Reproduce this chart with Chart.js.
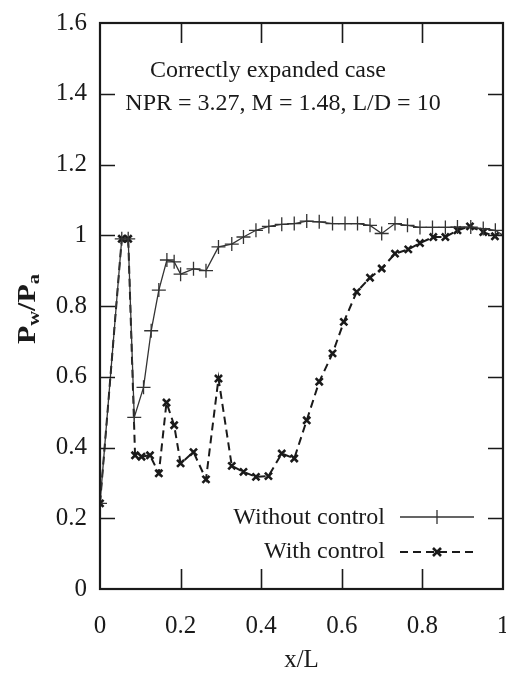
<!DOCTYPE html>
<html>
<head>
<meta charset="utf-8">
<script src="https://cdn.jsdelivr.net/npm/chart.js@4"></script>
<style>
  html, body { margin: 0; padding: 0; background: #fff; }
  #wrap { width: 506px; height: 673px; overflow: hidden; }
</style>
</head>
<body>
<div id="wrap"><canvas id="chart" width="506" height="673"></canvas></div>
<script>
// wall pressure along the nozzle
const xNoControl = [0, 0.054, 0.070, 0.085, 0.108, 0.127, 0.146, 0.166, 0.184, 0.200, 0.232, 0.263,
    0.294, 0.327, 0.356, 0.387, 0.419, 0.451, 0.482, 0.513, 0.544, 0.577, 0.608, 0.639,
    0.670, 0.699, 0.732, 0.763, 0.794, 0.825, 0.857, 0.887, 0.920, 0.951, 0.981, 1.0];
const pNoControl = [0.242, 0.99, 0.99, 0.485, 0.57, 0.73, 0.845, 0.93, 0.925, 0.89, 0.905, 0.90,
    0.967, 0.975, 0.995, 1.014, 1.025, 1.031, 1.033, 1.040, 1.038, 1.033, 1.033, 1.033,
    1.028, 1.005, 1.033, 1.028, 1.022, 1.022, 1.022, 1.023, 1.023, 1.019, 1.014, 1.0];

const xControl = [0, 0.054, 0.070, 0.087, 0.103, 0.124, 0.146, 0.165, 0.184, 0.200, 0.232, 0.263,
    0.294, 0.327, 0.356, 0.387, 0.418, 0.451, 0.482, 0.513, 0.544, 0.577, 0.605, 0.637,
    0.670, 0.699, 0.732, 0.765, 0.794, 0.827, 0.857, 0.887, 0.918, 0.951, 0.980];
const pControl = [0.242, 0.99, 0.99, 0.378, 0.374, 0.378, 0.327, 0.527, 0.463, 0.355, 0.387, 0.31,
    0.595, 0.348, 0.331, 0.317, 0.319, 0.383, 0.369, 0.477, 0.586, 0.666, 0.755, 0.840,
    0.880, 0.906, 0.948, 0.960, 0.978, 0.995, 0.995, 1.014, 1.025, 1.009, 0.997];

const xTickLabels = ['0', '0.2', '0.4', '0.6', '0.8', '1'];
const yTickLabels = ['0', '0.2', '0.4', '0.6', '0.8', '1', '1.2', '1.4', '1.6'];
const seriesNames = ['Without control', 'With control'];
const noteLines = ['Correctly expanded case', 'NPR = 3.27, M = 1.48, L/D = 10'];

const FONT = "'Liberation Serif', 'Times New Roman', serif";
const INK = '#1a1a1a';

function toPoints(xs, ys) {
    return xs.map((x, i) => ({ x: x, y: ys[i] }));
}

// box round the plot with inward ticks on all four sides
const framePlugin = {
    id: 'frame',
    afterDatasetsDraw(chart) {
        const { ctx, chartArea: a, scales: { x, y } } = chart;
        ctx.save();
        ctx.strokeStyle = INK;
        ctx.lineWidth = 1.6;
        ctx.beginPath();
        x.ticks.forEach(t => {
            if (t.value <= x.min || t.value >= x.max) return;
            const px = Math.round(x.getPixelForValue(t.value)) + 0.5;
            ctx.moveTo(px, a.bottom); ctx.lineTo(px, a.bottom - 20);
            ctx.moveTo(px, a.top); ctx.lineTo(px, a.top + 20);
        });
        y.ticks.forEach(t => {
            if (t.value <= y.min || t.value >= y.max) return;
            const py = Math.round(y.getPixelForValue(t.value)) + 0.5;
            ctx.moveTo(a.left, py); ctx.lineTo(a.left + 15, py);
            ctx.moveTo(a.right, py); ctx.lineTo(a.right - 15, py);
        });
        ctx.stroke();
        ctx.lineWidth = 2.2;
        ctx.strokeRect(a.left, a.top, a.right - a.left, a.bottom - a.top);

        // x tick labels drawn here so the "1" can run off the edge as in the original
        ctx.fillStyle = INK;
        ctx.font = '25px ' + FONT;
        ctx.textAlign = 'center';
        ctx.textBaseline = 'middle';
        x.ticks.forEach((t, i) => {
            ctx.fillText(xTickLabels[i], x.getPixelForValue(t.value), 626);
        });
        ctx.restore();
    }
};

// note, legend and the y title with subscripts
const textPlugin = {
    id: 'texts',
    afterDraw(chart) {
        const { ctx } = chart;
        ctx.save();
        ctx.fillStyle = INK;
        ctx.textBaseline = 'middle';

        ctx.font = '24px ' + FONT;
        ctx.textAlign = 'center';
        ctx.fillText(noteLines[0], 268, 71);
        ctx.fillText(noteLines[1], 283, 104);

        // legend
        ctx.textAlign = 'right';
        ctx.fillText(seriesNames[0], 385, 518);
        ctx.fillText(seriesNames[1], 385, 552);

        ctx.strokeStyle = '#333';
        ctx.lineWidth = 1.3;
        ctx.beginPath();
        ctx.moveTo(400, 517); ctx.lineTo(474, 517);
        ctx.moveTo(437, 510); ctx.lineTo(437, 524);
        ctx.moveTo(431, 517); ctx.lineTo(443, 517);
        ctx.stroke();

        ctx.strokeStyle = INK;
        ctx.lineWidth = 2;
        ctx.setLineDash([8, 5]);
        ctx.beginPath();
        ctx.moveTo(400, 552); ctx.lineTo(474, 552);
        ctx.stroke();
        ctx.setLineDash([]);
        ctx.lineWidth = 2.6;
        ctx.beginPath();
        ctx.moveTo(433, 548); ctx.lineTo(441, 556);
        ctx.moveTo(441, 548); ctx.lineTo(433, 556);
        ctx.stroke();

        // P_w / P_a, rotated
        ctx.translate(29, 309);
        ctx.rotate(-Math.PI / 2);
        ctx.scale(1.2, 1);
        const big = 'bold 25px ' + FONT;
        const small = 'bold 17px ' + FONT;
        const parts = [['P', big, 0], ['w', small, 6], ['/', big, 0], ['P', big, 0], ['a', small, 6]];
        let total = 0;
        parts.forEach(p => { ctx.font = p[1]; total += ctx.measureText(p[0]).width; });
        let cx = -total / 2;
        ctx.textAlign = 'left';
        parts.forEach(p => {
            ctx.font = p[1];
            ctx.fillText(p[0], cx, p[2]);
            cx += ctx.measureText(p[0]).width;
        });
        ctx.restore();
    }
};

new Chart(document.getElementById('chart'), {
    type: 'scatter',
    data: {
        datasets: [{
            label: seriesNames[0],
            data: toPoints(xNoControl, pNoControl),
            showLine: true,
            borderColor: '#333',
            borderWidth: 1.3,
            pointStyle: 'cross',
            pointRadius: 7,
            pointBorderWidth: 1.3,
            pointBorderColor: '#333',
            tension: 0
        }, {
            label: seriesNames[1],
            data: toPoints(xControl, pControl),
            showLine: true,
            borderColor: INK,
            borderWidth: 2,
            borderDash: [8, 5],
            pointStyle: 'crossRot',
            pointRadius: 5,
            pointBorderWidth: 2.6,
            pointBorderColor: INK,
            tension: 0
        }]
    },
    options: {
        responsive: false,
        animation: false,
        layout: { autoPadding: false, padding: { top: 23, right: 3, left: 0, bottom: 0 } },
        plugins: {
            legend: { display: false },
            tooltip: { enabled: false }
        },
        scales: {
            x: {
                type: 'linear',
                min: 0,
                max: 1,
                grid: { display: false, drawTicks: false },
                border: { display: false },
                ticks: { stepSize: 0.2, display: false },
                title: {
                    display: true,
                    text: 'x/L',
                    color: INK,
                    padding: 0,
                    font: { family: FONT, size: 25, lineHeight: 1 }
                },
                afterFit: s => { s.height = 84; s.paddingLeft = 0; s.paddingRight = 0; }
            },
            y: {
                min: 0,
                max: 1.6,
                grid: { display: false, drawTicks: false },
                border: { display: false },
                ticks: {
                    stepSize: 0.2,
                    padding: 13,
                    color: INK,
                    font: { family: FONT, size: 25 },
                    callback: (v, i) => yTickLabels[i]
                },
                afterFit: s => { s.width = 100; s.paddingTop = 0; s.paddingBottom = 0; }
            }
        }
    },
    plugins: [framePlugin, textPlugin]
});
</script>
</body>
</html>
